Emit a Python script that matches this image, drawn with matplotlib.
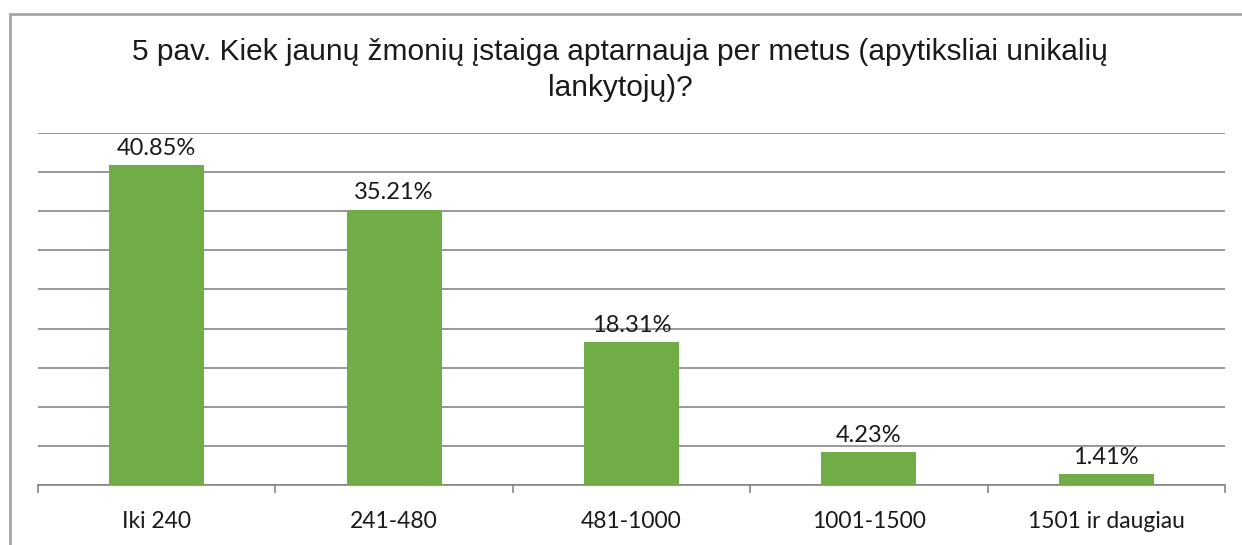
import numpy as np
import matplotlib.pyplot as plt
from matplotlib.patches import Rectangle

# Data
categories = ['Iki 240', '241-480', '481-1000', '1001-1500', '1501 ir daugiau']
values = [40.85, 35.21, 18.31, 4.23, 1.41]
labels = ['40.85%', '35.21%', '18.31%', '4.23%', '1.41%']
title = '5 pav. Kiek jaunų žmonių įstaiga aptarnauja per metus (apytiksliai unikalių\nlankytojų)?'

W, H = 1242, 545
fig = plt.figure(figsize=(W / 100, H / 100), dpi=100)
ax = fig.add_axes([38 / W, (H - 485) / H, (1225 - 38) / W, (485 - 133) / H])

x = np.arange(len(categories))
ax.bar(x, values, width=0.4, color='#70AD47', zorder=3)

ax.set_xlim(-0.5, len(categories) - 0.5)
ax.set_ylim(0, 45)
ax.set_yticks(np.arange(0, 46, 5))
ax.grid(axis='y', color='#868686', linewidth=1.2, zorder=0)
ax.tick_params(axis='y', length=0, labelleft=False)

for s in ['left', 'right', 'top']:
    ax.spines[s].set_visible(False)
ax.spines['bottom'].set_color('#868686')
ax.spines['bottom'].set_linewidth(1.2)

ax.set_xticks(x)
ax.set_xticklabels(categories, fontsize=16.5, family='Lato', color='#1a1a1a')
ax.tick_params(axis='x', which='major', length=0, pad=18.5)
ax.set_xticks(np.arange(-0.5, len(categories), 1.0), minor=True)
ax.tick_params(axis='x', which='minor', length=6, color='#868686', width=1.2)

for xi, v, lab in zip(x, values, labels):
    ax.annotate(lab, (xi, v), xytext=(0, 4.5), textcoords='offset points',
                ha='center', va='bottom', fontsize=17, family='Lato', color='#1a1a1a')

fig.text(620 / W, 1 - 38 / H, title, ha='center', va='top', fontsize=21.5,
         family='Liberation Sans', color='#1a1a1a', linespacing=1.35)

# outer chart border
fig.patches.append(Rectangle((10 / W, -0.1), 2, (H - 14) / H + 0.1, transform=fig.transFigure,
                             fill=False, edgecolor='#A6A6A6', linewidth=2))

fig.savefig('out.png', dpi=100)
